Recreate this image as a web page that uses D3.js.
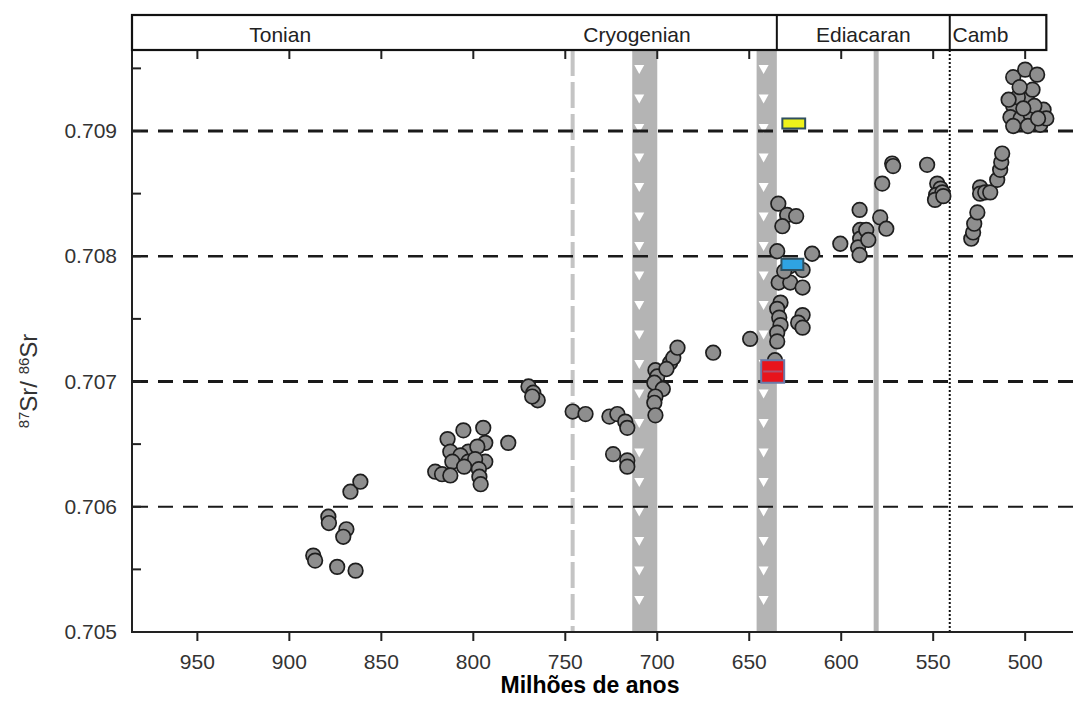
<!DOCTYPE html>
<html>
<head>
<meta charset="utf-8">
<script src="https://cdn.jsdelivr.net/npm/d3@7"></script>
<style>
  body { margin: 0; background: #fff; }
  svg { display: block; }
  text { font-family: "Liberation Sans", Arial, sans-serif; }
</style>
</head>
<body>
<script>
// chart data
const yTicks = [0.705, 0.706, 0.707, 0.708, 0.709];
const xTicks = [950, 900, 850, 800, 750, 700, 650, 600, 550, 500];

const periodNames = ["Tonian", "Cryogenian", "Ediacaran", "Camb"];
const periodLabelAge = [905, 711, 588, 539.5];
const periodDividers = [635, 541, 488.5];

// [age Ma, 87Sr/86Sr]
const srSamples = [
  [866.8,0.70612],[861.4,0.70620],[878.8,0.70592],[878.5,0.70587],[869,0.70582],
  [870.7,0.70576],[887,0.70561],[886,0.70557],[874,0.70552],[864,0.70549],
  [805.4,0.70661],[794.6,0.70663],[814,0.70654],[793.5,0.70651],[781,0.70651],
  [812.5,0.70644],[802.7,0.70644],[797.8,0.70648],[807,0.70641],[811.4,0.70636],
  [802.7,0.70636],[793.5,0.70636],[799,0.70638],[797,0.70630],[820.7,0.70628],
  [817,0.70626],[812.5,0.70625],[796.7,0.70624],[796,0.70618],[805,0.70632],
  [770,0.70696],[767.4,0.70691],[765,0.70685],[768,0.70688],
  [746,0.70676],[739,0.70674],[726,0.70672],[721.7,0.70674],[717.4,0.70668],
  [716.3,0.70663],[724,0.70642],[716.3,0.70637],[716.3,0.70632],
  [701,0.70709],[700,0.70704],[701.6,0.70699],[697,0.70694],[701,0.70688],
  [701.6,0.70683],[701,0.70673],[693,0.70715],[691.3,0.70719],[689,0.70727],[695,0.70710],
  [669.6,0.70723],[649.5,0.70734],
  [634.2,0.70842],[629.4,0.70833],[624.5,0.70832],[632,0.70824],[634.8,0.70804],
  [615.8,0.70802],[621,0.70789],[634,0.70779],[627.7,0.70779],[621,0.70775],
  [633,0.70763],[634.8,0.70758],[633.7,0.70751],[633,0.70745],[634.8,0.70739],
  [634.8,0.70732],[621,0.70753],[623.4,0.70747],[621,0.70743],[636,0.70717],
  [628,0.70792],[631,0.70788],
  [600.5,0.70810],[590,0.70837],[589.7,0.70821],[589.7,0.70814],[590.8,0.70807],
  [590,0.70801],[586.4,0.70821],[585.3,0.70813],[578.8,0.70831],[575.5,0.70822],
  [577.7,0.70858],[572.3,0.70874],[571.8,0.70872],[553.3,0.70873],[547.8,0.70858],
  [546,0.70854],[548.4,0.70849],[545,0.70851],[549,0.70845],[544.5,0.70848],
  [529.3,0.70814],[528.3,0.70819],[527.7,0.70826],[526,0.70835],[524.5,0.70855],
  [524.5,0.70850],[521.7,0.70851],[519,0.70851],[515.2,0.70861],[513.6,0.70869],
  [513,0.70875],[512.5,0.70882],
  [506.5,0.70943],[500,0.70949],[493.5,0.70945],[499,0.70925],[506.5,0.70920],
  [508,0.70911],[502.5,0.70910],[497,0.70913],[490,0.70917],[491.8,0.70905],
  [504,0.70927],[496,0.70933],[506.5,0.70904],[498.5,0.70904],[488.5,0.70910],
  [503,0.70935],[495,0.70920],[509,0.70925],[501,0.70918],[493,0.70910]
];

// highlighted sample boxes
const boxAgeFrom = [632, 632.5, 643.5];
const boxAgeTo = [619.6, 620.6, 631];
const boxSrLow = [0.70902, 0.70789, 0.70699];
const boxSrHigh = [0.70910, 0.70798, 0.70717];
const boxColor = ["#eef21a", "#2fa3e2", "#e8141c"];

// glaciation bands and marker lines (Ma)
const glacialBands = [[713.6, 700], [646, 635]];
const dashedLineAge = 746;
const solidLineAge = 581;
const dottedLineAge = 541;

const width = 1073, height = 718;
const svg = d3.select("body").append("svg")
  .attr("width", width).attr("height", height);

const x = d3.scaleLinear().domain([985, 474]).range([133, 1073]);
const y = d3.scaleLinear().domain([0.705, 0.709]).range([632, 131]);
const plotTop = 50, plotBottom = 632;

// bands with white triangles
glacialBands.forEach(b => {
  const x0 = x(b[0]), x1 = x(b[1]);
  svg.append("rect")
    .attr("x", x0).attr("y", plotTop)
    .attr("width", x1 - x0).attr("height", plotBottom - plotTop)
    .attr("fill", "#b4b4b4");
  const tx = x0 + 7;
  d3.range(plotTop + 20, plotBottom - 4, 29.5).forEach(ty => {
    svg.append("path")
      .attr("d", `M${tx - 5},${ty - 5}L${tx + 5},${ty - 5}L${tx},${ty + 4}Z`)
      .attr("fill", "#fff");
  });
});

svg.append("line")
  .attr("x1", x(dashedLineAge)).attr("x2", x(dashedLineAge))
  .attr("y1", plotTop).attr("y2", plotBottom)
  .attr("stroke", "#c4c4c4").attr("stroke-width", 4)
  .attr("stroke-dasharray", "26,6");

svg.append("line")
  .attr("x1", x(solidLineAge)).attr("x2", x(solidLineAge))
  .attr("y1", plotTop).attr("y2", plotBottom)
  .attr("stroke", "#b4b4b4").attr("stroke-width", 5);

svg.append("line")
  .attr("x1", x(dottedLineAge)).attr("x2", x(dottedLineAge))
  .attr("y1", plotTop).attr("y2", plotBottom)
  .attr("stroke", "#111").attr("stroke-width", 2)
  .attr("stroke-dasharray", "2,2");

// dashed reference lines
const gridWidth = { 0.706: 2, 0.707: 3.2, 0.708: 2.6, 0.709: 3 };
svg.selectAll(".grid")
  .data(yTicks.filter(d => d > 0.705))
  .enter().append("line")
  .attr("class", "grid")
  .attr("x1", 133).attr("x2", width)
  .attr("y1", d => y(d)).attr("y2", d => y(d))
  .attr("stroke", "#1a1a1a")
  .attr("stroke-width", d => gridWidth[d])
  .attr("stroke-dasharray", "15,10");

// points
svg.selectAll(".pt")
  .data(srSamples)
  .enter().append("circle")
  .attr("class", "pt")
  .attr("cx", d => x(d[0]))
  .attr("cy", d => y(d[1]))
  .attr("r", 7.3)
  .attr("fill", "#8e8e8e")
  .attr("stroke", "#1e1e1e")
  .attr("stroke-width", 1.7);

// sample boxes
boxColor.forEach((c, i) => {
  const bx = x(boxAgeFrom[i]), bw = x(boxAgeTo[i]) - bx;
  const by = y(boxSrHigh[i]), bh = y(boxSrLow[i]) - by;
  svg.append("rect")
    .attr("x", bx).attr("y", by).attr("width", bw).attr("height", bh)
    .attr("fill", c)
    .attr("stroke", i === 2 ? "#6a7aa8" : "#2f4f5f")
    .attr("stroke-width", 2);
  if (i === 2) {
    svg.append("line")
      .attr("x1", bx + 2).attr("x2", bx + bw - 2)
      .attr("y1", by + bh / 2).attr("y2", by + bh / 2)
      .attr("stroke", "#b05070").attr("stroke-width", 2);
  }
});

// axes
svg.append("line")
  .attr("x1", 132).attr("x2", 132).attr("y1", plotTop).attr("y2", plotBottom + 1)
  .attr("stroke", "#222").attr("stroke-width", 2);
svg.append("line")
  .attr("x1", 131).attr("x2", width).attr("y1", plotBottom).attr("y2", plotBottom)
  .attr("stroke", "#222").attr("stroke-width", 2);

const yMinor = d3.range(0.7055, 0.7095, 0.001);
svg.selectAll(".ytick")
  .data(yTicks.concat(yMinor))
  .enter().append("line")
  .attr("x1", 132).attr("x2", 141)
  .attr("y1", d => y(d)).attr("y2", d => y(d))
  .attr("stroke", "#222").attr("stroke-width", 2);

svg.selectAll(".ylab")
  .data(yTicks)
  .enter().append("text")
  .attr("x", 117).attr("y", d => y(d) + 7)
  .attr("text-anchor", "end")
  .attr("font-size", 21).attr("fill", "#333")
  .text(d => d3.format(".3f")(d));

svg.selectAll(".xtick")
  .data(xTicks)
  .enter().append("line")
  .attr("x1", d => x(d)).attr("x2", d => x(d))
  .attr("y1", plotBottom).attr("y2", plotBottom + 9)
  .attr("stroke", "#222").attr("stroke-width", 2);

svg.selectAll(".xtopt")
  .data(xTicks)
  .enter().append("line")
  .attr("x1", d => x(d)).attr("x2", d => x(d))
  .attr("y1", plotTop).attr("y2", plotTop + 9)
  .attr("stroke", "#222").attr("stroke-width", 2);

svg.selectAll(".xlab")
  .data(xTicks)
  .enter().append("text")
  .attr("x", d => x(d)).attr("y", 669)
  .attr("text-anchor", "middle")
  .attr("font-size", 21).attr("fill", "#333")
  .text(d => d);

// period header
svg.append("rect")
  .attr("x", 132).attr("y", 15)
  .attr("width", x(periodDividers[2]) - 132).attr("height", plotTop - 15)
  .attr("fill", "#fff").attr("stroke", "#111").attr("stroke-width", 2.2);
periodDividers.slice(0, 2).forEach(a => {
  svg.append("line")
    .attr("x1", x(a)).attr("x2", x(a)).attr("y1", 15).attr("y2", plotTop)
    .attr("stroke", "#111").attr("stroke-width", 2);
});
periodNames.forEach((n, i) => {
  svg.append("text")
    .attr("x", x(periodLabelAge[i]))
    .attr("y", 42)
    .attr("text-anchor", i === 3 ? "start" : "middle")
    .attr("font-size", 21).attr("fill", "#222")
    .text(n);
});

// axis titles
const yt = svg.append("text")
  .attr("transform", "translate(37,381) rotate(-90)")
  .attr("text-anchor", "middle")
  .attr("font-size", 24).attr("fill", "#333");
yt.append("tspan").attr("font-size", 15).attr("dy", -8).text("87");
yt.append("tspan").attr("dy", 8).text("Sr/ ");
yt.append("tspan").attr("font-size", 15).attr("dy", -8).text("86");
yt.append("tspan").attr("dy", 8).text("Sr");

svg.append("text")
  .attr("x", 590).attr("y", 693)
  .attr("text-anchor", "middle")
  .attr("font-family", "Lato, 'Open Sans', sans-serif")
  .attr("font-weight", "bold")
  .attr("font-size", 23).attr("fill", "#000")
  .text("Milhões de anos");
</script>
</body>
</html>
